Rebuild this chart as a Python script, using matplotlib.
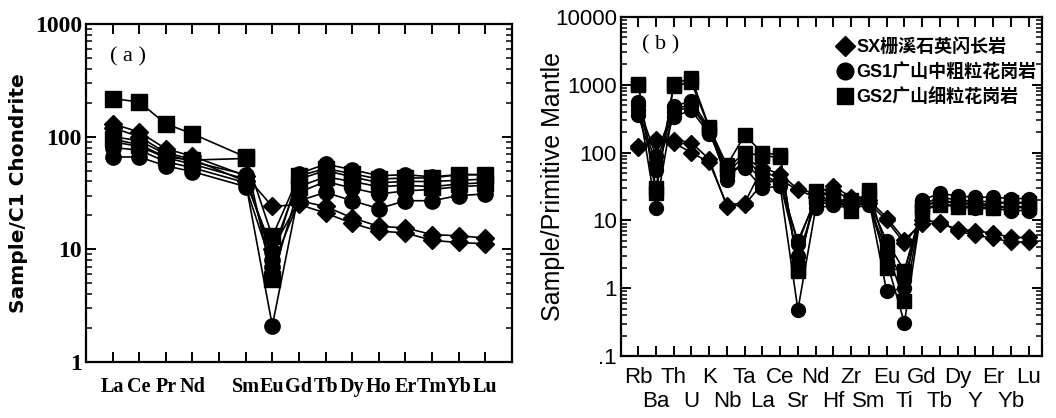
import matplotlib.pyplot as plt
import matplotlib.ticker as mticker
from matplotlib.lines import Line2D

# ---- panel (a): REE, chondrite normalised ----
ree_axis = ['La', 'Ce', 'Pr', 'Nd', 'Pm', 'Sm', 'Eu', 'Gd', 'Tb', 'Dy', 'Ho', 'Er', 'Tm', 'Yb', 'Lu']
ree_used = ['La', 'Ce', 'Pr', 'Nd', 'Sm', 'Eu', 'Gd', 'Tb', 'Dy', 'Ho', 'Er', 'Tm', 'Yb', 'Lu']

ree_sx1 = [130, 110, 78, 67, 45, 24, 25, 21, 17, 14.5, 14, 12, 11.5, 11.2]
ree_sx2 = [120, 100, 72, 63, 40, 10, 27, 24, 19, 16, 15.5, 13.5, 13.2, 12.6]
ree_gs1_1 = [100, 92, 70, 60, 46, 8, 47, 57, 51, 45, 46, 44, 46, 46]
ree_gs1_2 = [90, 82, 65, 57, 42, 9.5, 42, 50, 44, 39, 40, 40, 41, 42]
ree_gs1_3 = [80, 76, 60, 53, 39, 2.1, 32, 40, 35, 31, 33, 34, 36, 37]
ree_gs1_4 = [66, 66, 55, 49, 36, 7, 27, 32, 27, 23, 27, 27, 30, 31]
ree_gs2_1 = [218, 203, 130, 106, 66, 13, 45, 52, 47, 42, 43, 43, 46, 46]
ree_gs2_2 = [95, 85, 66, 62, 64, 5.5, 36, 44, 40, 36, 37, 36, 38, 39]

# ---- panel (b): trace elements, primitive mantle normalised ----
te_axis = ['Rb', 'Ba', 'Th', 'U', 'K', 'Nb', 'Ta', 'La', 'Ce', 'Sr', 'Nd', 'Hf',
           'Zr', 'Sm', 'Eu', 'Ti', 'Gd', 'Tb', 'Dy', 'Y', 'Er', 'Yb', 'Lu']

te_sx1 = [115, 150, 140, 100, 72, 17, 18, 60, 48, 29, 25, 32, 22, 20, 11, 5.2, 9, 9, 7.5, 7, 6.5, 5.6, 5.6]
te_sx2 = [125, 160, 155, 140, 80, 16, 17, 35, 40, 28, 22, 28, 20, 18, 10, 4.6, 10, 9.5, 7, 6, 5.5, 4.8, 4.8]
te_gs1_1 = [560, 15, 480, 580, 230, 50, 90, 55, 40, 4.5, 22, 20, 18, 20, 0.9, 1.0, 20, 25, 23, 22, 22, 21, 21]
te_gs1_2 = [430, 70, 400, 480, 210, 45, 70, 40, 36, 3.0, 18, 18, 16, 18, 2.5, 0.31, 17, 22, 20, 19, 19, 18, 18]
te_gs1_3 = [360, 55, 340, 420, 190, 55, 60, 30, 32, 0.48, 15, 17, 15, 17, 3.5, 1.3, 14, 18, 16, 15, 15, 14, 14]
te_gs1_4 = [500, 90, 450, 500, 220, 40, 80, 48, 35, 5, 20, 19, 17, 19, 5, 1.8, 16, 20, 18, 17, 16, 16, 15]
te_gs2_1 = [1030, 25, 1030, 1250, 240, 65, 180, 100, 92, 1.8, 27, 22, 14, 28, 3.6, 0.65, 16, 19, 18, 18, 17, 19, 18]
te_gs2_2 = [1000, 30, 950, 1100, 230, 58, 100, 90, 85, 2.0, 22, 20, 20, 24, 2.0, 1.8, 14, 17, 16, 16, 15, 16, 16]

legend_labels = ['SX栅溪石英闪长岩', 'GS1广山中粗粒花岗岩', 'GS2广山细粒花岗岩']

cjk = ['Liberation Sans', 'Noto Sans CJK SC']

fig = plt.figure(figsize=(10.56, 4.18), dpi=100)
ax1 = fig.add_axes([0.0814, 0.134, 0.4034, 0.8086])
ax2 = fig.add_axes([0.588, 0.1483, 0.3987, 0.811])


def style_axes(ax):
    for s in ax.spines.values():
        s.set_linewidth(1.6)
    ax.tick_params(which='both', direction='in', top=True, right=True, width=1.4)
    ax.tick_params(which='major', length=7)
    ax.tick_params(which='minor', length=4, width=1.1)


# panel (a)
xa = [ree_axis.index(e) + 1 for e in ree_used]
for vals in [ree_gs2_1, ree_gs2_2]:
    ax1.plot(xa, vals, color='black', lw=1.2, marker='s', ms=11, mec='black')
for vals in [ree_gs1_1, ree_gs1_2, ree_gs1_3, ree_gs1_4]:
    ax1.plot(xa, vals, color='black', lw=1.2, marker='o', ms=11, mec='black')
for vals in [ree_sx1, ree_sx2]:
    ax1.plot(xa, vals, color='black', lw=1.2, marker='D', ms=9, mec='black')

ax1.set_yscale('log')
ax1.set_ylim(1, 1000)
ax1.set_xlim(0, 16)
ax1.set_xticks(range(1, 16))
ax1.set_xticklabels(['' if e == 'Pm' else e for e in ree_axis],
                    fontfamily='Liberation Serif', fontweight='bold', fontsize=14.5)
ax1.yaxis.set_major_formatter(mticker.FuncFormatter(lambda v, p: f'{v:g}'))
ax1.yaxis.set_minor_formatter(mticker.NullFormatter())
for t in ax1.get_yticklabels():
    t.set_fontfamily('Liberation Serif')
    t.set_fontweight('bold')
    t.set_fontsize(17)
style_axes(ax1)
ax1.tick_params(axis='x', pad=11)
ax1.tick_params(axis='y', pad=3)
ax1.set_ylabel('Sample/C1 Chondrite', fontfamily='DejaVu Sans', fontweight='bold', fontsize=14.5)
ax1.yaxis.set_label_coords(-0.136, 0.5)
ax1.text(0.057, 0.902, '( a )', transform=ax1.transAxes, fontsize=16,
         family='Liberation Serif', va='center', ha='left')

# panel (b)
xb = list(range(1, len(te_axis) + 1))
for vals in [te_gs2_1, te_gs2_2]:
    ax2.plot(xb, vals, color='black', lw=1.2, marker='s', ms=10, mec='black')
for vals in [te_gs1_1, te_gs1_2, te_gs1_3, te_gs1_4]:
    ax2.plot(xb, vals, color='black', lw=1.2, marker='o', ms=10, mec='black')
for vals in [te_sx1, te_sx2]:
    ax2.plot(xb, vals, color='black', lw=1.2, marker='D', ms=8, mec='black')

ax2.set_yscale('log')
ax2.set_ylim(0.1, 10000)
ax2.set_xlim(0.03, 23.75)
ax2.set_xticks(xb)
ax2.set_xticklabels([e if i % 2 == 0 else '\n' + e for i, e in enumerate(te_axis)],
                    fontfamily='Liberation Sans', fontsize=16, linespacing=1.2)
ax2.yaxis.set_major_formatter(mticker.FuncFormatter(lambda v, p: '.1' if v < 0.5 else f'{v:g}'))
ax2.yaxis.set_minor_formatter(mticker.NullFormatter())
for t in ax2.get_yticklabels():
    t.set_fontfamily('Liberation Sans')
    t.set_fontsize(16)
style_axes(ax2)
ax2.tick_params(axis='x', pad=8)
ax2.tick_params(axis='y', pad=3)
ax2.set_ylabel('Sample/Primitive Mantle', fontfamily='Liberation Sans', fontsize=18)
ax2.yaxis.set_label_coords(-0.133, 0.5)
ax2.text(0.05, 0.917, '( b )', transform=ax2.transAxes, fontsize=16,
         family='Liberation Serif', va='center', ha='left')

handles = [Line2D([], [], ls='none', marker='D', ms=10, color='black'),
           Line2D([], [], ls='none', marker='o', ms=12, color='black'),
           Line2D([], [], ls='none', marker='s', ms=12, color='black')]
ax2.legend(handles, legend_labels, loc='upper right', bbox_to_anchor=(1.025, 0.985),
           frameon=False, handletextpad=0.1, handlelength=1.0, labelspacing=0.4,
           prop={'family': cjk, 'weight': 'bold', 'size': 13})

fig.savefig('out.png', dpi=100)
